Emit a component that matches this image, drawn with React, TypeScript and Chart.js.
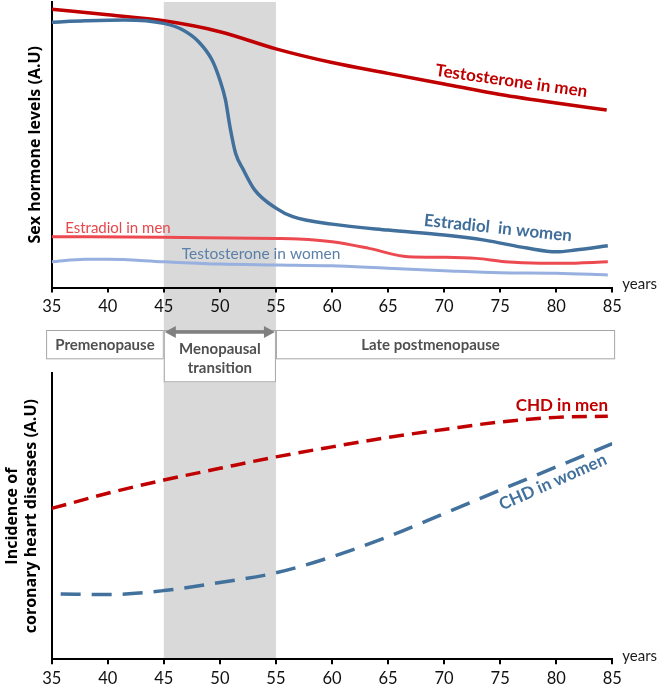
import { useEffect, useRef } from 'react';
import { Chart, registerables } from 'chart.js';

Chart.register(...registerables);

// ---------- data ----------
const xTickValues = [35, 40, 45, 50, 55, 60, 65, 70, 75, 80, 85];
const transitionStart = 45;
const transitionEnd = 55;

// Top panel: sex hormone levels (A.U, 0-100)
const testosteroneMenAge = [35, 40, 45, 50, 55, 60, 65, 70, 75, 80, 84.5];
const testosteroneMenLevel = [97.5, 95.5, 93.4, 89.6, 83.6, 78.8, 75.0, 71.3, 67.6, 64.6, 62.2];

const estradiolWomenAge = [35, 38, 41.5, 45, 46.7, 48.1, 49.3, 50, 50.5, 50.9, 51.4, 52.1, 53.1, 55, 56.5, 60, 65, 70, 73.6, 77.4, 80, 81.7, 84.6];
const estradiolWomenLevel = [92.9, 93.4, 93.7, 92.5, 90.2, 86.1, 79.7, 72.7, 65.7, 56.3, 47.0, 41.2, 34.2, 27.8, 24.8, 22.2, 20.1, 18.4, 16.6, 13.8, 12.5, 13.1, 14.6];

const estradiolMenAge = [35, 45, 55, 57, 60, 63.3, 66.8, 70.1, 72.9, 75.4, 78.6, 80.6, 84.6];
const estradiolMenLevel = [17.8, 17.6, 17.2, 17.0, 16.0, 13.7, 10.8, 10.6, 10.2, 9.0, 8.5, 8.5, 9.0];

const testosteroneWomenAge = [35, 38, 40, 45, 50, 55, 60, 65, 70, 75, 80, 84.6];
const testosteroneWomenLevel = [9.0, 9.9, 9.9, 9.0, 8.2, 7.9, 7.6, 6.7, 5.9, 5.2, 5.0, 4.4];

// Bottom panel: incidence of coronary heart diseases (A.U, 0-100)
const chdMenAge = [35, 40, 45, 50, 55, 60, 65, 70, 75, 80, 84.6];
const chdMenIncidence = [52.7, 58.0, 62.6, 66.7, 70.7, 74.2, 77.5, 80.3, 82.9, 84.5, 84.9];

const chdWomenAge = [35.8, 40, 45, 50, 55, 60, 65, 70, 75, 80, 85];
const chdWomenIncidence = [22.8, 22.6, 24.0, 26.8, 30.2, 35.8, 42.8, 50.9, 59.1, 67.2, 75.3];

// Life phases (age spans)
const phaseNames = [['Premenopause'], ['Menopausal', 'transition'], ['Late postmenopause']];
const phaseStart = [34.5, 45, 55];
const phaseEnd = [45, 55, 85.25];

// ---------- helpers ----------
const FONT = 'Lato, "Open Sans", sans-serif';
const TITLE_FONT = '"Open Sans", Lato, sans-serif';
const toPoints = (ages: number[], vals: number[]) => ages.map((a, i) => ({ x: a, y: vals[i] }));

function drawText(ctx: CanvasRenderingContext2D, text: string, x: number, y: number, font: string, color: string, align: CanvasTextAlign = 'center', rotateDeg = 0) {
  ctx.save();
  ctx.translate(x, y);
  ctx.rotate((rotateDeg * Math.PI) / 180);
  ctx.font = font;
  ctx.fillStyle = color;
  ctx.textAlign = align;
  ctx.textBaseline = 'middle';
  ctx.fillText(text, 0, 0);
  ctx.restore();
}

function bandPlugin(extendBelow: number) {
  return {
    id: 'band',
    beforeDraw(chart: any) {
      const { ctx, chartArea, scales } = chart;
      const x0 = scales.x.getPixelForValue(transitionStart);
      const x1 = scales.x.getPixelForValue(transitionEnd);
      ctx.save();
      ctx.fillStyle = '#D9D9D9';
      ctx.fillRect(x0, chartArea.top, x1 - x0, chartArea.bottom - chartArea.top + extendBelow);
      ctx.restore();
    },
  };
}

const yearsPlugin = {
  id: 'years',
  afterDraw(chart: any) {
    const { ctx, chartArea } = chart;
    drawText(ctx, 'years', chartArea.right + 10, chartArea.bottom - 3, `15px ${FONT}`, '#1a1a1a', 'left');
  },
};

const topAnnotations = {
  id: 'topAnnotations',
  afterDraw(chart: any) {
    const { ctx, scales, chartArea } = chart;
    const X = (v: number) => scales.x.getPixelForValue(v);
    const Y = (v: number) => scales.y.getPixelForValue(v);
    drawText(ctx, 'Testosterone in men', X(76.0), Y(72.3), `bold 17px ${FONT}`, '#C00000', 'center', 8);
    drawText(ctx, 'Estradiol  in women', X(74.8), Y(20.8), `bold 17px ${FONT}`, '#3F6E9A', 'center', 6);
    drawText(ctx, 'Estradiol in men', X(36.2), Y(20.8), `15px ${FONT}`, '#E8474C', 'left');
    drawText(ctx, 'Testosterone in women', X(46.6), Y(11.7), `15.5px ${FONT}`, '#5B80A8', 'left');

    // phase boxes
    const boxTop = chartArea.bottom + 42.5;
    const shortH = 29.3;
    const tallH = 52.3;
    const textShift = [0, 0, -15];
    phaseNames.forEach((lines, i) => {
      const x0 = X(phaseStart[i]);
      const x1 = X(phaseEnd[i]);
      const h = lines.length > 1 ? tallH : shortH;
      ctx.save();
      ctx.fillStyle = '#ffffff';
      ctx.fillRect(x0, boxTop, x1 - x0, h);
      ctx.strokeStyle = '#A6A6A6';
      ctx.lineWidth = 1;
      ctx.strokeRect(x0 + 0.5, boxTop + 0.5, x1 - x0 - 1, h - 1);
      ctx.restore();
      const cx = (x0 + x1) / 2 + textShift[i];
      if (lines.length > 1) {
        drawText(ctx, lines[0], cx, boxTop + 19, `bold 15px ${FONT}`, '#505050');
        drawText(ctx, lines[1], cx, boxTop + 38, `bold 15px ${FONT}`, '#505050');
      } else {
        drawText(ctx, lines[0], cx, boxTop + 15.5, `bold 15px ${FONT}`, '#505050');
      }
    });

    // double arrow for the transition
    const ay = boxTop + 2;
    const ax0 = X(transitionStart) + 1;
    const ax1 = X(transitionEnd) - 1;
    ctx.save();
    ctx.strokeStyle = '#808080';
    ctx.fillStyle = '#808080';
    ctx.lineWidth = 3.5;
    ctx.beginPath();
    ctx.moveTo(ax0 + 8, ay);
    ctx.lineTo(ax1 - 8, ay);
    ctx.stroke();
    ctx.beginPath();
    ctx.moveTo(ax0, ay);
    ctx.lineTo(ax0 + 11, ay - 6);
    ctx.lineTo(ax0 + 11, ay + 6);
    ctx.closePath();
    ctx.fill();
    ctx.beginPath();
    ctx.moveTo(ax1, ay);
    ctx.lineTo(ax1 - 11, ay - 6);
    ctx.lineTo(ax1 - 11, ay + 6);
    ctx.closePath();
    ctx.fill();
    ctx.restore();
  },
};

const bottomAnnotations = {
  id: 'bottomAnnotations',
  afterDraw(chart: any) {
    const { ctx, scales } = chart;
    const X = (v: number) => scales.x.getPixelForValue(v);
    const Y = (v: number) => scales.y.getPixelForValue(v);
    drawText(ctx, 'CHD in men', X(80.5), Y(88.5), `bold 17px ${FONT}`, '#C00000', 'center');
    drawText(ctx, 'CHD in women', X(79.7), Y(61.9), `bold 17px ${FONT}`, '#41719C', 'center', -24);
  },
};

function xScale(labelPad: number) {
  return {
    type: 'linear' as const,
    min: 35,
    max: 85,
    afterBuildTicks: (s: any) => {
      s.ticks = xTickValues.map((v) => ({ value: v }));
    },
    afterFit: (s: any) => {
      s.height = 29.7;
      s.paddingLeft = 0;
      s.paddingRight = 0;
    },
    grid: { display: true, drawOnChartArea: false, drawTicks: true, tickLength: 5, color: '#000', lineWidth: 2 },
    border: { display: true, color: '#000', width: 2 },
    ticks: {
      font: { family: FONT, size: 16.5 },
      color: '#111',
      padding: labelPad,
      maxRotation: 0,
      autoSkip: false,
      callback: (v: any) => String(v),
    },
  };
}

function yScale(text: string | string[], width: number, padBottom: number, size: number) {
  return {
    type: 'linear' as const,
    min: 0,
    max: 100,
    afterFit: (s: any) => {
      s.width = width;
      s.paddingTop = 0;
      s.paddingBottom = 0;
    },
    ticks: { display: false },
    grid: { display: false, drawTicks: false },
    border: { display: true, color: '#000', width: 2 },
    title: {
      display: true,
      text,
      color: '#000',
      font: { family: TITLE_FONT, size, weight: 'bold' as const, lineHeight: 19.5 / size },
      padding: { top: 0, bottom: padBottom },
    },
  };
}

export default function App() {
  const topRef = useRef<HTMLCanvasElement>(null);
  const botRef = useRef<HTMLCanvasElement>(null);

  useEffect(() => {
    const topChart = new Chart(topRef.current as HTMLCanvasElement, {
      type: 'line',
      data: {
        datasets: [
          { data: toPoints(testosteroneWomenAge, testosteroneWomenLevel), borderColor: '#97B0DF', borderWidth: 3 },
          { data: toPoints(estradiolMenAge, estradiolMenLevel), borderColor: '#EC4A50', borderWidth: 3 },
          { data: toPoints(estradiolWomenAge, estradiolWomenLevel), borderColor: '#41709C', borderWidth: 3.5 },
          { data: toPoints(testosteroneMenAge, testosteroneMenLevel), borderColor: '#C00000', borderWidth: 3.5 },
        ].map((d) => ({ ...d, pointRadius: 0, fill: false, cubicInterpolationMode: 'monotone' as const })),
      },
      options: {
        responsive: false,
        animation: false,
        layout: { padding: { left: 25.2, top: 2, right: 50.7, bottom: 371.8 } },
        plugins: { legend: { display: false }, tooltip: { enabled: false } },
        scales: {
          x: xScale(4) as any,
          y: yScale('Sex hormone levels (A.U)', 26.5, 0, 16) as any,
        },
      },
      plugins: [bandPlugin(96), yearsPlugin, topAnnotations],
    });

    const botChart = new Chart(botRef.current as HTMLCanvasElement, {
      type: 'line',
      data: {
        datasets: [
          { data: toPoints(chdWomenAge, chdWomenIncidence), borderColor: '#41719C', borderWidth: 3.5, borderDash: [20, 11] },
          { data: toPoints(chdMenAge, chdMenIncidence), borderColor: '#C00000', borderWidth: 3.5, borderDash: [15, 8] },
        ].map((d) => ({ ...d, pointRadius: 0, fill: false, cubicInterpolationMode: 'monotone' as const })),
      },
      options: {
        responsive: false,
        animation: false,
        layout: { padding: { left: 2.25, top: 373, right: 50.7, bottom: 0 } },
        plugins: { legend: { display: false }, tooltip: { enabled: false } },
        scales: {
          x: xScale(4) as any,
          y: yScale(['Incidence of', 'coronary heart diseases (A.U)'], 49.45, 0, 16) as any,
        },
      },
      plugins: [bandPlugin(0), yearsPlugin, bottomAnnotations],
    });

    return () => {
      topChart.destroy();
      botChart.destroy();
    };
  }, []);

  return (
    <div style={{ position: 'absolute', left: 0, top: 0, width: 663, height: 689, background: '#ffffff' }}>
      <canvas ref={botRef} width={663} height={689} style={{ position: 'absolute', left: 0, top: 0 }} />
      <canvas ref={topRef} width={663} height={689} style={{ position: 'absolute', left: 0, top: 0 }} />
    </div>
  );
}
